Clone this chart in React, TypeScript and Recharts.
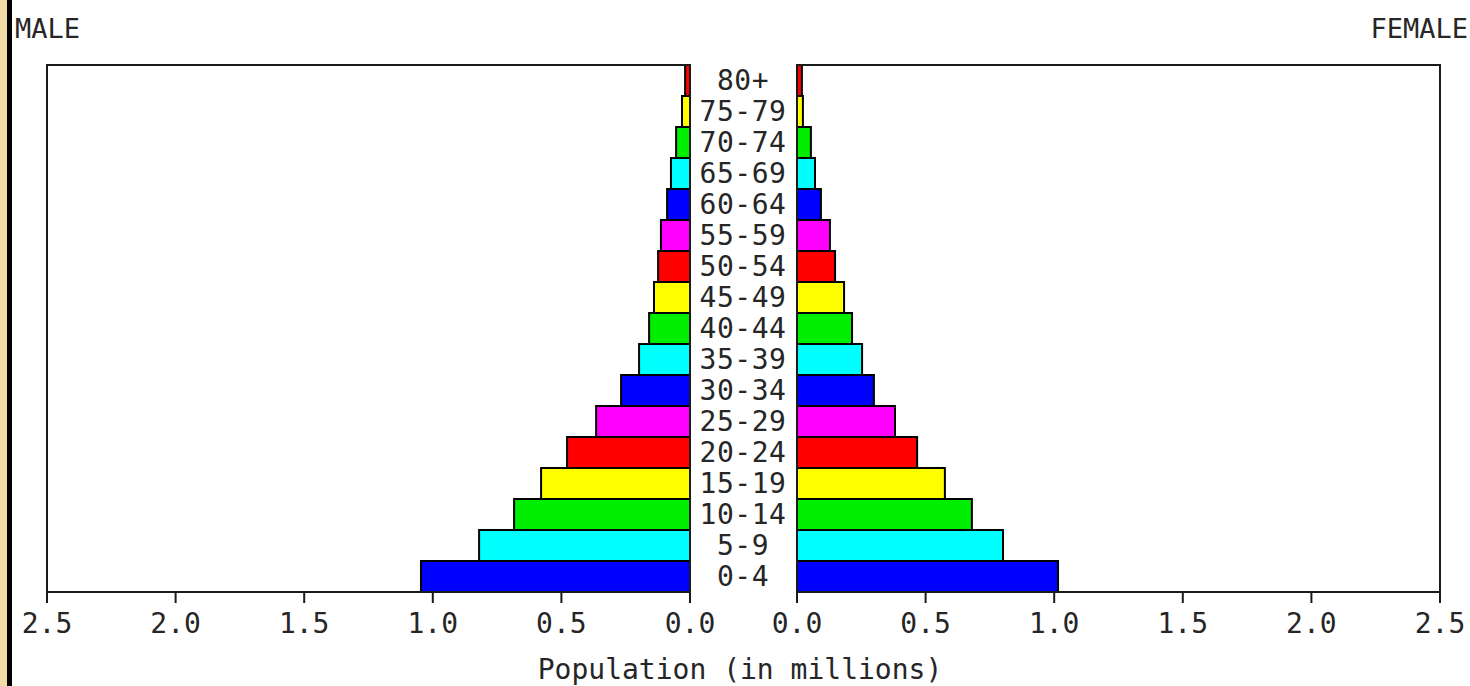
import React from 'react';
import { BarChart, Bar, XAxis, YAxis, Cell } from 'recharts';

// age groups, top of the pyramid first
const ageGroups = [
  '80+', '75-79', '70-74', '65-69', '60-64', '55-59', '50-54', '45-49', '40-44',
  '35-39', '30-34', '25-29', '20-24', '15-19', '10-14', '5-9', '0-4',
];

// population in millions
const maleValues = [
  0.019, 0.031, 0.054, 0.074, 0.089, 0.113, 0.124, 0.14, 0.159,
  0.198, 0.268, 0.365, 0.478, 0.579, 0.684, 0.82, 1.046,
];
const femaleValues = [
  0.019, 0.023, 0.054, 0.07, 0.093, 0.128, 0.148, 0.183, 0.214,
  0.253, 0.299, 0.381, 0.467, 0.575, 0.68, 0.801, 1.015,
];

const xTicks = [0, 0.5, 1, 1.5, 2, 2.5];

// colour cycle starting from the youngest group
const colorCycle = ['#0000ff', '#00ffff', '#00ee00', '#ffff00', '#ff0000', '#ff00ff'];

const data = ageGroups.map((age, i) => ({
  age,
  male: maleValues[i],
  female: femaleValues[i],
  color: colorCycle[(ageGroups.length - 1 - i) % colorCycle.length],
}));

const FONT = '"DejaVu Sans Mono", monospace';
const INK = '#262626';
const tickStyle = { fontFamily: FONT, fontSize: 28, fill: INK };

const CHART_H = 686;
const TOP = 65;
const AXIS_Y = 592;
const AXIS_H = 50;
const BOTTOM = CHART_H - AXIS_Y - AXIS_H;

function AgeTick(props: any) {
  const { y, payload } = props;
  return (
    <text
      x={53}
      y={y}
      textAnchor="middle"
      dominantBaseline="central"
      style={{ fontFamily: FONT, fontSize: 28, fill: INK, letterSpacing: 0.5 }}
    >
      {payload.value}
    </text>
  );
}

// plain box drawn round each plot area
function Frame({ left, right }: { left: number; right: number }) {
  return (
    <div
      style={{
        position: 'absolute',
        boxSizing: 'border-box',
        left: left - 1,
        top: TOP - 1,
        width: right - left + 2,
        height: AXIS_Y - TOP + 2,
        border: '2px solid #1a1a1a',
        pointerEvents: 'none',
      }}
    />
  );
}

export default function App() {
  return (
    <div
      style={{
        position: 'fixed',
        left: 0,
        top: 0,
        width: 1470,
        height: 686,
        background: '#fff',
        overflow: 'hidden',
      }}
    >
      {/* gold page edge */}
      <div style={{ position: 'absolute', left: 0, top: 0, width: 7, height: 686, background: '#f2dca6' }} />
      <div style={{ position: 'absolute', left: 7, top: 0, width: 5, height: 686, background: '#000' }} />

      <div style={{ position: 'absolute', left: 15, top: 13, fontFamily: FONT, fontSize: 27, color: INK }}>
        MALE
      </div>
      <div style={{ position: 'absolute', right: 2, top: 13, fontFamily: FONT, fontSize: 27, color: INK }}>
        FEMALE
      </div>

      {/* male side */}
      <div style={{ position: 'absolute', left: 0, top: 0 }}>
        <BarChart
          width={740}
          height={CHART_H}
          data={data}
          layout="vertical"
          margin={{ top: TOP, right: 50, bottom: BOTTOM, left: 47 }}
          barCategoryGap={0}
        >
          <XAxis
            type="number"
            dataKey="male"
            domain={[0, 2.5]}
            ticks={xTicks}
            interval={0}
            reversed
            allowDataOverflow
            height={AXIS_H}
            tickSize={11}
            tickMargin={10}
            tickFormatter={(v: number) => v.toFixed(1)}
            tick={tickStyle}
            axisLine={{ stroke: '#1a1a1a', strokeWidth: 2 }}
            tickLine={{ stroke: '#1a1a1a', strokeWidth: 2 }}
          />
          <YAxis type="category" dataKey="age" hide />
          <Bar dataKey="male" isAnimationActive={false} stroke="#000" strokeWidth={2}>
            {data.map((d, i) => (
              <Cell key={i} fill={d.color} />
            ))}
          </Bar>
        </BarChart>
      </div>

      {/* female side */}
      <div style={{ position: 'absolute', left: 690, top: 0 }}>
        <BarChart
          width={780}
          height={CHART_H}
          data={data}
          layout="vertical"
          margin={{ top: TOP, right: 30, bottom: BOTTOM, left: 0 }}
          barCategoryGap={0}
        >
          <XAxis
            type="number"
            dataKey="female"
            domain={[0, 2.5]}
            ticks={xTicks}
            interval={0}
            allowDataOverflow
            height={AXIS_H}
            tickSize={11}
            tickMargin={10}
            tickFormatter={(v: number) => v.toFixed(1)}
            tick={tickStyle}
            axisLine={{ stroke: '#1a1a1a', strokeWidth: 2 }}
            tickLine={{ stroke: '#1a1a1a', strokeWidth: 2 }}
          />
          <YAxis
            type="category"
            dataKey="age"
            width={107}
            tick={<AgeTick />}
            tickLine={false}
            axisLine={false}
            interval={0}
          />
          <Bar dataKey="female" isAnimationActive={false} stroke="#000" strokeWidth={2}>
            {data.map((d, i) => (
              <Cell key={i} fill={d.color} />
            ))}
          </Bar>
        </BarChart>
      </div>

      <Frame left={47} right={690} />
      <Frame left={797} right={1440} />

      <div
        style={{
          position: 'absolute',
          left: 0,
          width: 1480,
          top: 653,
          textAlign: 'center',
          fontFamily: FONT,
          fontSize: 28,
          color: INK,
        }}
      >
        Population (in millions)
      </div>
    </div>
  );
}
